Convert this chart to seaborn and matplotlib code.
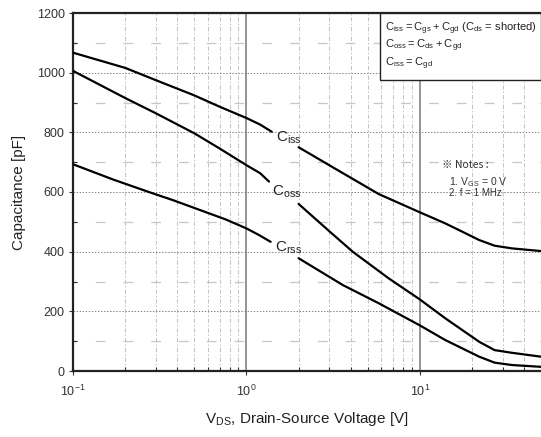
import numpy as np
import pandas as pd
import matplotlib
matplotlib.use("Agg")
import matplotlib.pyplot as plt
from matplotlib.patches import Rectangle
from matplotlib.ticker import LogLocator, MultipleLocator, NullFormatter
import seaborn as sns

# Capacitance vs drain-source voltage, each curve split around its label
ciss_v_lo = [0.1, 0.2, 0.3, 0.5, 0.7, 1.0, 1.2, 1.4]
ciss_c_lo = [1067, 1016, 975, 924, 886, 848, 826, 802]
ciss_v_hi = [2.0, 3.3, 5.8, 10, 14, 18, 22, 27, 34, 50]
ciss_c_hi = [750, 676, 593, 532, 495, 464, 439, 420, 411, 402]

coss_v_lo = [0.1, 0.2, 0.3, 0.5, 0.7, 1.0, 1.2, 1.35]
coss_c_lo = [1006, 915, 864, 797, 746, 690, 663, 635]
coss_v_hi = [2.0, 3.0, 4.1, 6.6, 10, 14, 22, 27, 34, 50]
coss_c_hi = [560, 469, 400, 311, 240, 177, 98, 70, 61, 48]

crss_v_lo = [0.1, 0.17, 0.28, 0.38, 0.76, 1.0, 1.18, 1.38]
crss_c_lo = [693, 642, 598, 572, 508, 478, 456, 433]
crss_v_hi = [2.0, 3.6, 5.8, 10, 14, 22, 27, 34, 50]
crss_c_hi = [378, 288, 227, 153, 104, 48, 28, 20, 14]

y_ticks = [0, 200, 400, 600, 800, 1000, 1200]

parts = [
    ("Ciss", "a", ciss_v_lo, ciss_c_lo), ("Ciss", "b", ciss_v_hi, ciss_c_hi),
    ("Coss", "a", coss_v_lo, coss_c_lo), ("Coss", "b", coss_v_hi, coss_c_hi),
    ("Crss", "a", crss_v_lo, crss_c_lo), ("Crss", "b", crss_v_hi, crss_c_hi),
]
frames = []
for name, seg, v, c in parts:
    frames.append(pd.DataFrame({"V": v, "C": c, "series": name, "part": f"{name}_{seg}"}))
df = pd.concat(frames, ignore_index=True)

sns.set_theme(style="white")
plt.rcParams["font.family"] = ["Liberation Sans", "DejaVu Sans"]
plt.rcParams["mathtext.default"] = "regular"
plt.rcParams["lines.scale_dashes"] = False

fig = plt.figure(figsize=(5.41, 4.37), dpi=100)
ax = fig.add_axes([73 / 541, 66 / 437, 468 / 541, 358 / 437])

sns.lineplot(data=df, x="V", y="C", units="part", estimator=None, sort=False,
             color="black", lw=1.6, legend=False, ax=ax, zorder=5)

ax.set_xscale("log")
ax.set_xlim(0.1, 50)
ax.set_ylim(0, 1200)
ax.set_yticks(y_ticks)
ax.yaxis.set_minor_locator(MultipleLocator(100))
ax.xaxis.set_major_locator(LogLocator(base=10, numticks=10))
ax.xaxis.set_minor_locator(LogLocator(base=10, subs=np.arange(2, 10), numticks=20))
ax.xaxis.set_minor_formatter(NullFormatter())

# grid: solid decades, dash-dot minor decades, dotted majors / dashed minors in y
ax.xaxis.grid(True, which="major", ls="-", color="0.55", lw=1.3)
ax.xaxis.grid(True, which="minor", ls=(0, (3, 1.5, 1, 1.5)), color="0.72", lw=0.6)
ax.yaxis.grid(True, which="major", ls=(0, (1, 1.2)), color="0.5", lw=0.7)
ax.yaxis.grid(True, which="minor", ls=(4, (7, 13)), color="0.78", lw=0.9)
ax.set_axisbelow(True)

for side in ["left", "bottom", "top"]:
    ax.spines[side].set_visible(True)
    ax.spines[side].set_color("#222222")
    ax.spines[side].set_linewidth(1.6)
ax.spines["right"].set_visible(False)

ax.tick_params(axis="both", which="major", direction="out", length=3, width=0.8,
               color="#333333", labelsize=9, labelcolor="#333333", pad=3,
               bottom=True, left=True)
ax.tick_params(axis="x", which="major", pad=6)
ax.tick_params(axis="both", which="minor", direction="in", length=3, width=0.8,
               color="#333333", bottom=True, left=True)

ax.set_xlabel(r"$V_{DS}$, Drain-Source Voltage [V]", fontsize=11, color="#222222", labelpad=8)
ax.set_ylabel("Capacitance [pF]", fontsize=11, color="#222222", labelpad=8)

# curve labels sitting in the gaps
for txt, x, y in [(r"$C_{iss}$", 1.48, 783), (r"$C_{oss}$", 1.41, 600), (r"$C_{rss}$", 1.46, 414)]:
    ax.text(x, y, txt, fontsize=11, color="#222222", ha="left", va="center", zorder=6)

# definitions box in the upper-right corner
box = Rectangle((0.656, 0.813), 0.344, 0.187, transform=ax.transAxes,
                facecolor="white", edgecolor="#222222", lw=1.0, zorder=7, clip_on=False)
ax.add_patch(box)
defs = [
    r"$C_{iss} = C_{gs} + C_{gd}$ ($C_{ds}$ = shorted)",
    r"$C_{oss} = C_{ds} + C_{gd}$",
    r"$C_{rss} = C_{gd}$",
]
for i, line in enumerate(defs):
    ax.text(0.667, 0.955 - i * 0.048, line, transform=ax.transAxes, fontsize=8,
            color="#222222", ha="left", va="center", zorder=8)

# measurement notes
ax.text(0.788, 0.575, "※ Notes :", transform=ax.transAxes, fontsize=7.5,
        color="#333333", ha="left", va="center", zorder=8,
        family=["Noto Sans CJK SC", "Liberation Sans"])
ax.text(0.803, 0.527, r"1. $V_{GS}$ = 0 V", transform=ax.transAxes, fontsize=7.5,
        color="#333333", ha="left", va="center", zorder=8)
ax.text(0.803, 0.497, "2. f = 1 MHz", transform=ax.transAxes, fontsize=7,
        color="#333333", ha="left", va="center", zorder=8)

fig.savefig("out.png", dpi=100)
